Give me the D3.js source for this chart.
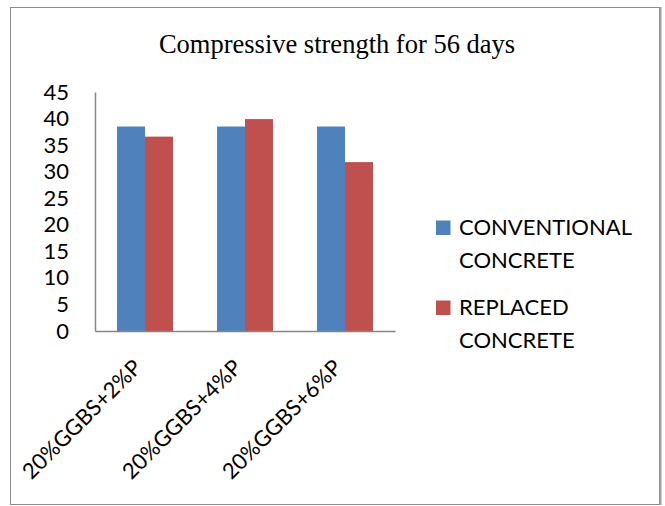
<!DOCTYPE html>
<html>
<head>
<meta charset="utf-8">
<script src="https://cdn.jsdelivr.net/npm/d3@7"></script>
<style>
  html, body { margin: 0; padding: 0; background: #fff; }
  svg { display: block; }
</style>
</head>
<body>
<svg id="chart" width="665" height="506"></svg>
<script>
const categories = ["20%GGBS+2%P", "20%GGBS+4%P", "20%GGBS+6%P"];
const seriesNames = ["CONVENTIONAL CONCRETE", "REPLACED CONCRETE"];
const conventional = [38.5, 38.5, 38.5];
const replaced = [36.6, 39.9, 31.8];
const yTicks = [0, 5, 10, 15, 20, 25, 30, 35, 40, 45];
const titleText = "Compressive strength for 56 days";
const legendLines = [["CONVENTIONAL", "CONCRETE"], ["REPLACED", "CONCRETE"]];
const colors = ["#4F81BD", "#C0504D"];

const svg = d3.select("#chart");
const font = "Lato, 'Open Sans', sans-serif";

// outer frame
svg.append("rect").attr("x", 10.5).attr("y", 7.5).attr("width", 649).attr("height", 497)
  .attr("fill", "#fff").attr("stroke", "#8c8c8c").attr("stroke-width", 1);
svg.append("line").attr("x1", 660.5).attr("x2", 660.5).attr("y1", 7).attr("y2", 505)
  .attr("stroke", "#a0a0a0").attr("stroke-width", 2);

// title
svg.append("text").attr("x", 337).attr("y", 52.5).attr("text-anchor", "middle")
  .attr("font-family", "'Liberation Serif', 'Times New Roman', serif")
  .attr("font-size", 26.5).attr("fill", "#000").text(titleText);

const plot = { left: 95, right: 395, top: 92, bottom: 331 };

const x0 = d3.scaleBand().domain(categories).range([plot.left, plot.right])
  .paddingInner(0.44).paddingOuter(0.22);
const x1 = d3.scaleBand().domain([0, 1]).range([0, x0.bandwidth()]).padding(0);
const y = d3.scaleLinear().domain([0, 45]).range([plot.bottom, plot.top]);

const data = categories.map((c, i) => ({ cat: c, vals: [conventional[i], replaced[i]] }));

// bars
const g = svg.append("g");
data.forEach(d => {
  d.vals.forEach((v, s) => {
    g.append("rect")
      .attr("x", x0(d.cat) + x1(s))
      .attr("y", y(v))
      .attr("width", x1.bandwidth())
      .attr("height", y(0) - y(v))
      .attr("fill", colors[s]);
  });
});

// y axis
const yAxis = d3.axisLeft(y).tickValues(yTicks).tickSize(0).tickPadding(26);
const ya = svg.append("g").attr("transform", `translate(${plot.left},0)`).call(yAxis);
ya.select(".domain").attr("stroke", "#868686").attr("stroke-width", 1.5);
ya.selectAll("text").attr("font-family", font).attr("font-size", 22).attr("fill", "#000");

// x axis
const xAxis = d3.axisBottom(x0).tickSize(0).tickFormat(d => d);
const xa = svg.append("g").attr("transform", `translate(0,${plot.bottom})`).call(xAxis);
xa.select(".domain").attr("stroke", "#868686").attr("stroke-width", 1.5);
xa.selectAll("text")
  .attr("font-family", font).attr("font-size", 22).attr("fill", "#000")
  .attr("text-anchor", "end")
  .attr("dy", null)
  .attr("y", 0)
  .attr("transform", "translate(-2,38) rotate(-45)");

// legend
const leg = svg.append("g");
const legY = [235, 315];
seriesNames.forEach((n, i) => {
  leg.append("rect").attr("x", 436).attr("y", legY[i] - 14.5).attr("width", 14.5).attr("height", 14.5)
    .attr("fill", colors[i]);
  legendLines[i].forEach((line, j) => {
    leg.append("text").attr("x", 459).attr("y", legY[i] + j * 32.5)
      .attr("font-family", font).attr("font-size", 22).attr("fill", "#000").text(line);
  });
});
</script>
</body>
</html>
